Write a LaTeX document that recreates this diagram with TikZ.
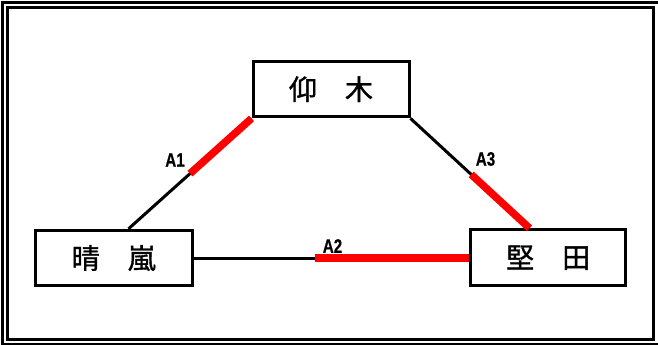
\documentclass[tikz,border=0pt]{standalone}
\usepackage{fontspec}
\newfontfamily\cjk[FakeBold=1.2]{Noto Sans CJK JP}
\newfontfamily\lab[FakeBold=0.6]{Liberation Sans}
\usetikzlibrary{calc}
\begin{document}
\begin{tikzpicture}[x=1pt,y=-1pt,
  frame/.style={draw=black,line width=3.3pt},
  place/.style={draw=black,line width=3pt,fill=white,minimum width=156pt,minimum height=55.5pt,inner sep=0pt,font=\cjk\fontsize{28}{28}\selectfont},
  link/.style={draw=black,line width=3pt},
  hot/.style={draw=red,line width=7.5pt},
  tag/.style={font=\lab\bfseries\fontsize{19.5}{19.5}\selectfont,inner sep=0pt}]
\useasboundingbox (0,0) rectangle (658,345);
\fill[white] (0,0) rectangle (658,345);
\draw[frame] (2.5,2.5) rectangle (660,344.2);
\draw[frame] (7.5,7.5) rectangle (653.3,339.2);
% places
\node[place] (ogi) at (331,89.2) {仰　木};
\node[place,minimum width=156.5pt,minimum height=55.4pt] (seiran) at (113.75,258) {晴　嵐};
\node[place,minimum width=155pt,minimum height=56pt] (katata) at (548.2,257.7) {堅　田};
\coordinate (sTop) at ($(seiran.north west)+(94.5,0)$);
\coordinate (kTop) at ($(katata.north west)+(60.3,0)$);
\coordinate (kLeft) at ($(katata.west)+(0,0.3)$);
% links
\draw[link] (ogi.south west) -- (sTop);
\draw[hot] (ogi.south west) -- ($(ogi.south west)!0.5!(sTop)$);
\draw[link] (ogi.south east) -- (kTop);
\draw[hot] ($(ogi.south east)!0.51!(kTop)$) -- (kTop);
\draw[link] (seiran.east) -- (kLeft);
\draw[hot] ($(seiran.east)!0.441!(kLeft)$) -- (kLeft);
% labels
\node[tag] (a1) at (175,160) {\scalebox{0.78}[1]{A1}};
\node[tag] (a2) at (332.5,246) {\scalebox{0.78}[1]{A2}};
\node[tag] (a3) at (485.5,159) {\scalebox{0.78}[1]{A3}};
\end{tikzpicture}
\end{document}
